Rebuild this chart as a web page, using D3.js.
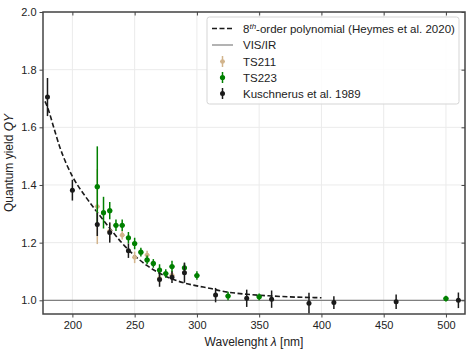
<!DOCTYPE html>
<html lang="en">
<head>
<meta charset="utf-8">
<title>Quantum yield vs wavelength</title>
<script src="https://cdn.jsdelivr.net/npm/d3@7"></script>
<style>
  body { margin: 0; background: #fff; }
  svg { font-family: "Liberation Sans", Arial, sans-serif; }
</style>
</head>
<body>
<div id="chart"></div>
<script>
// ---- data ----
// 8th-order polynomial fit
var fitWl = [178, 180, 185, 190, 195, 200, 210, 220, 230, 240, 250, 260, 270, 280, 290, 300, 310, 320, 340, 360, 380, 400];
var fitQy = [1.69, 1.67, 1.60, 1.53, 1.475, 1.43, 1.363, 1.305, 1.25, 1.198, 1.155, 1.12, 1.094, 1.074, 1.06, 1.05, 1.042, 1.032, 1.021, 1.015, 1.011, 1.009];

// TS211
var ts211Wl  = [220, 230, 240, 250, 260, 270, 280];
var ts211Qy  = [1.325, 1.24, 1.226, 1.149, 1.157, 1.076, 1.087];
var ts211Err = [0.13, 0.03, 0.015, 0.02, 0.015, 0.015, 0.015];

// TS223
var ts223Wl  = [220, 225, 230, 235, 240, 245, 250, 255, 260, 265, 270, 275, 280, 290, 300, 325, 350, 500];
var ts223Qy  = [1.394, 1.304, 1.311, 1.26, 1.26, 1.217, 1.197, 1.167, 1.14, 1.128, 1.105, 1.093, 1.117, 1.113, 1.086, 1.015, 1.012, 1.006];
var ts223Err = [0.14, 0.055, 0.03, 0.02, 0.02, 0.02, 0.02, 0.015, 0.015, 0.015, 0.02, 0.015, 0.02, 0.015, 0.015, 0.015, 0.012, 0.01];

// Kuschnerus et al. 1989
var kusWl  = [180, 200, 220, 230, 245, 270, 280, 290, 315, 340, 360, 390, 410, 460, 510];
var kusQy  = [1.705, 1.382, 1.263, 1.235, 1.172, 1.072, 1.08, 1.096, 1.018, 1.007, 1.004, 0.99, 0.992, 0.995, 1.0];
var kusErr = [0.066, 0.036, 0.04, 0.035, 0.025, 0.025, 0.02, 0.035, 0.025, 0.03, 0.03, 0.036, 0.022, 0.025, 0.027];

var xTicks = [200, 250, 300, 350, 400, 450, 500];
var yTicks = [1.0, 1.2, 1.4, 1.6, 1.8, 2.0];

// ---- layout ----
var margin = {top: 12, right: 7, bottom: 40, left: 43};
var outer_width = 472, outer_height = 354;
var width = outer_width - margin.left - margin.right;
var height = outer_height - margin.top - margin.bottom;

var svg = d3.select("#chart").append("svg")
  .attr("width", outer_width)
  .attr("height", outer_height);
var g = svg.append("g")
  .attr("transform", "translate(" + margin.left + "," + margin.top + ")");

var xScale = d3.scaleLinear().domain([176.4, 515.3]).range([0, width]);
var yScale = d3.scaleLinear().domain([0.9525, 2.0]).range([height, 0]);

// grid
g.append("g").selectAll("line").data(xTicks).enter().append("line")
  .attr("x1", function(d) { return xScale(d); }).attr("x2", function(d) { return xScale(d); })
  .attr("y1", 0).attr("y2", height)
  .attr("stroke", "#ebebeb").attr("stroke-width", 1);
g.append("g").selectAll("line").data(yTicks).enter().append("line")
  .attr("y1", function(d) { return yScale(d); }).attr("y2", function(d) { return yScale(d); })
  .attr("x1", 0).attr("x2", width)
  .attr("stroke", "#ebebeb").attr("stroke-width", 1);

// VIS/IR reference line
g.append("line")
  .attr("x1", 0).attr("x2", width)
  .attr("y1", yScale(1.0)).attr("y2", yScale(1.0))
  .attr("stroke", "#808080").attr("stroke-width", 1.2);

// fit curve
var fitLine = d3.line()
  .x(function(d) { return xScale(d[0]); })
  .y(function(d) { return yScale(d[1]); })
  .curve(d3.curveMonotoneX);
g.append("path")
  .datum(d3.zip(fitWl, fitQy))
  .attr("d", fitLine)
  .attr("fill", "none")
  .attr("stroke", "#1a1a1a")
  .attr("stroke-width", 1.6)
  .attr("stroke-dasharray", "5,2.5");

// error bar series
function drawSeries(wl, qy, err, color, xerr, r) {
  var data = d3.zip(wl, qy, err);
  var s = g.append("g");
  s.selectAll("line.ey").data(data).enter().append("line")
    .attr("x1", function(d) { return xScale(d[0]); }).attr("x2", function(d) { return xScale(d[0]); })
    .attr("y1", function(d) { return yScale(d[1] - d[2]); })
    .attr("y2", function(d) { return yScale(d[1] + d[2]); })
    .attr("stroke", color).attr("stroke-width", 1.5);
  if (xerr > 0) {
    s.selectAll("line.ex").data(data).enter().append("line")
      .attr("x1", function(d) { return xScale(d[0] - xerr); })
      .attr("x2", function(d) { return xScale(d[0] + xerr); })
      .attr("y1", function(d) { return yScale(d[1]); })
      .attr("y2", function(d) { return yScale(d[1]); })
      .attr("stroke", color).attr("stroke-width", 1.5);
  }
  s.selectAll("circle").data(data).enter().append("circle")
    .attr("cx", function(d) { return xScale(d[0]); })
    .attr("cy", function(d) { return yScale(d[1]); })
    .attr("r", r)
    .attr("fill", color);
}
drawSeries(ts211Wl, ts211Qy, ts211Err, "#d2b48c", 2, 2.3);
drawSeries(ts223Wl, ts223Qy, ts223Err, "#008000", 2, 2.6);
drawSeries(kusWl, kusQy, kusErr, "#1a1a1a", 0, 2.5);

// frame
g.append("rect")
  .attr("x", 0).attr("y", 0).attr("width", width).attr("height", height)
  .attr("fill", "none").attr("stroke", "#444").attr("stroke-width", 1.5);

// axes
var xAxis = d3.axisBottom(xScale).tickValues(xTicks).tickSize(3.5).tickPadding(4);
var yAxis = d3.axisLeft(yScale).tickValues(yTicks).tickSize(3.5).tickPadding(3)
  .tickFormat(d3.format(".1f"));
var xTop = d3.axisTop(xScale).tickValues(xTicks).tickSize(-3.5).tickFormat("");
var yRight = d3.axisRight(yScale).tickValues(yTicks).tickSize(-3.5).tickFormat("");

g.append("g").attr("transform", "translate(0," + height + ")").call(xAxis);
g.append("g").call(yAxis);
g.append("g").call(xTop);
g.append("g").attr("transform", "translate(" + width + ",0)").call(yRight);

g.selectAll(".domain").remove();
g.selectAll(".tick line").attr("stroke", "#444").attr("stroke-width", 1);
g.selectAll(".tick text").attr("fill", "#222").style("font-size", "11px")
  .style("font-family", "'Liberation Sans', Arial, sans-serif");

// axis labels
var xl = svg.append("text")
  .attr("x", margin.left + width / 2).attr("y", 346)
  .attr("text-anchor", "middle").attr("fill", "#222").style("font-size", "12px");
xl.append("tspan").text("Wavelenght ");
xl.append("tspan").attr("font-style", "italic").text("λ");
xl.append("tspan").text(" [nm]");

var yl = svg.append("text")
  .attr("transform", "translate(13," + (margin.top + height / 2) + ") rotate(-90)")
  .attr("text-anchor", "middle").attr("fill", "#222").style("font-size", "12px");
yl.append("tspan").text("Quantum yield ");
yl.append("tspan").attr("font-style", "italic").text("QY");

// legend
var legend = svg.append("g").attr("transform", "translate(207,17)");
legend.append("rect")
  .attr("width", 252).attr("height", 87).attr("rx", 2.5)
  .attr("fill", "#fff").attr("fill-opacity", 0.85)
  .attr("stroke", "#d5d5d5").attr("stroke-width", 1);

var rowY = [11.5, 28, 44.5, 60.5, 76.5];
var textX = 36, handleX0 = 5, handleX1 = 26, handleMid = 15.5;

legend.append("line").attr("x1", handleX0).attr("x2", handleX1)
  .attr("y1", rowY[0]).attr("y2", rowY[0])
  .attr("stroke", "#1a1a1a").attr("stroke-width", 1.6).attr("stroke-dasharray", "5,2.5");
legend.append("line").attr("x1", handleX0).attr("x2", handleX1)
  .attr("y1", rowY[1]).attr("y2", rowY[1])
  .attr("stroke", "#808080").attr("stroke-width", 1.2);

var legSeries = [
  {y: rowY[2], c: "#d2b48c", r: 2.3, xe: true},
  {y: rowY[3], c: "#008000", r: 2.6, xe: true},
  {y: rowY[4], c: "#1a1a1a", r: 2.5, xe: false}
];
legSeries.forEach(function(s) {
  legend.append("line").attr("x1", handleMid).attr("x2", handleMid)
    .attr("y1", s.y - 5.5).attr("y2", s.y + 5.5)
    .attr("stroke", s.c).attr("stroke-width", 1.5);
  if (s.xe) {
    legend.append("line").attr("x1", handleMid - 2.5).attr("x2", handleMid + 2.5)
      .attr("y1", s.y).attr("y2", s.y)
      .attr("stroke", s.c).attr("stroke-width", 1.5);
  }
  legend.append("circle").attr("cx", handleMid).attr("cy", s.y).attr("r", s.r).attr("fill", s.c);
});

var labels = ["", "VIS/IR", "TS211", "TS223", "Kuschnerus et al. 1989"];
var t0 = legend.append("text").attr("x", textX).attr("y", rowY[0] + 4)
  .attr("fill", "#222").style("font-size", "11.5px");
t0.append("tspan").text("8");
t0.append("tspan").attr("dy", -4).style("font-size", "8px").attr("font-style", "italic").text("th");
t0.append("tspan").attr("dy", 4).text("-order polynomial (Heymes et al. 2020)");
for (var i = 1; i < labels.length; i++) {
  legend.append("text").attr("x", textX).attr("y", rowY[i] + 4)
    .attr("fill", "#222").style("font-size", "11.5px").text(labels[i]);
}
</script>
</body>
</html>
